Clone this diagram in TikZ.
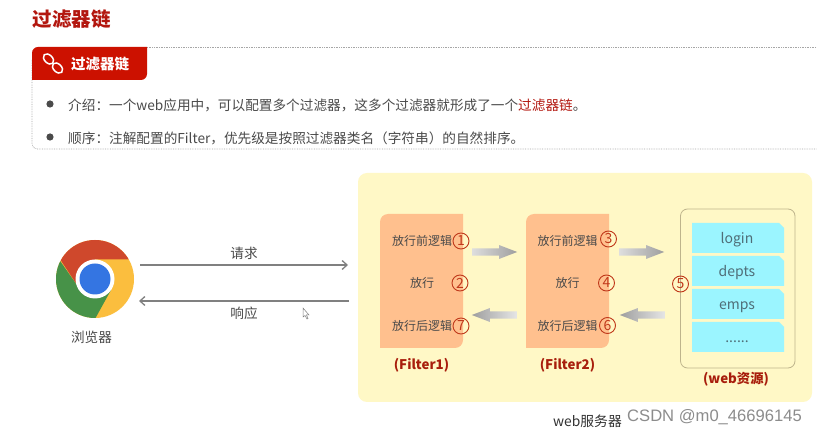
\documentclass[tikz,border=0pt]{standalone}
\usepackage{fontspec}
\setmainfont{Noto Sans CJK SC}
\newfontfamily\latinf{Liberation Sans}
\usetikzlibrary{shapes.arrows,arrows.meta,calc}
\definecolor{titlered}{HTML}{B3170F}
\definecolor{tabred}{HTML}{CC1100}
\definecolor{bodytxt}{HTML}{4A4A4A}
\definecolor{panel}{HTML}{FFF8C6}
\definecolor{filt}{HTML}{FFC08E}
\definecolor{cyanb}{HTML}{9BF5FF}
\definecolor{numred}{HTML}{C0391B}
\definecolor{lblred}{HTML}{A81E0C}
\definecolor{itemtext}{HTML}{4F6E78}
\tikzset{
 x=1pt,y=-1pt,
 txt/.style={inner sep=0pt,font=\fontsize{#1}{#1}\selectfont,text=bodytxt},
 txt/.default=12,
 num/.style={circle,draw=numred,line width=0.9pt,inner sep=0pt,minimum size=16pt,text=numred,font=\fontsize{14}{14}\selectfont},
 flabel/.style={inner sep=0pt,text=lblred,font=\fontsize{13.3}{13.3}\selectfont\bfseries},
 garrow/.style={single arrow,draw=none,minimum height=45pt,single arrow tip angle=42,single arrow head extend=3.25pt,inner xsep=0pt,inner ysep=3.5pt},
 thinarrow/.style={draw=black!50,line width=1.3pt,-{Straight Barb[length=5pt,width=9pt]}},
 item/.style={fill=cyanb,draw=none},
 itemtxt/.style={inner sep=0pt,anchor=base,text=itemtext,font=\fontsize{14}{14}\selectfont},
}
\newcommand{\cyanitem}[3]{% name, top, text
 \fill[item] (692,#2) -- (779,#2) -- (784,#2+5) -- (784,#2+30) -- (692,#2+30) -- cycle;
 \node[itemtxt] (#1) at (737,#2+21) {#3};
}
\begin{document}
\begin{tikzpicture}
\useasboundingbox (0,0) rectangle (817,435);
\fill[white] (0,0) rectangle (817,435);
% title
\node[anchor=west,inner sep=0pt,text=titlered,font=\fontsize{19.5}{19.5}\selectfont\bfseries] (title) at (32.5,19) {过滤器链};
% header box
\draw[black!35,densely dotted,line width=0.7pt,rounded corners=5pt] (32,60) -- (32,149) -- (817,149);
\draw[black!35,densely dotted,line width=0.7pt] (147,47.5) -- (817,47.5);
\fill[tabred] (32,80) [rounded corners=6pt] -- (32,47) [sharp corners] -- (147,47) [rounded corners=6pt] -- (147,80) [sharp corners] -- cycle;
\begin{scope}[white,line width=1.5pt]
 \draw[rotate around={-45:(48.5,59)}] (48.5,59) ellipse[x radius=6,y radius=4];
 \draw[rotate around={-45:(57.5,68)}] (57.5,68) ellipse[x radius=6,y radius=4];
\end{scope}
\node[anchor=west,inner sep=0pt,text=white,font=\fontsize{14.5}{14.5}\selectfont\bfseries] (tabtext) at (71,64) {过滤器链};
% bullets
\fill[bodytxt] (50,104) circle[radius=3.6];
\fill[bodytxt] (50,137) circle[radius=3.6];
\node[txt=13.65,anchor=west] (l1) at (68,105) {介绍：一个web应用中，可以配置多个过滤器，这多个过滤器就形成了一个\textcolor{titlered}{过滤器链}。};
\node[txt=13.65,anchor=west] (l2) at (68,138) {顺序：注解配置的Filter，优先级是按照过滤器类名（字符串）的自然排序。};
% chrome
\begin{scope}
 \clip (95,279) circle[radius=39];
 \fill[fill={rgb,255:red,251;green,190;blue,62}] (50,235) rectangle (140,325);
 \fill[fill={rgb,255:red,207;green,72;blue,44}] (140,259.5) -- (95,259.5) -- (79,288) -- (56,253) -- (56,235) -- (140,235) -- cycle;
 \fill[fill={rgb,255:red,71;green,146;blue,72}] (58,258) -- (79,288) -- (111,290) -- (95,319) -- (50,325) -- (50,250) -- cycle;
\end{scope}
\fill[white] (95,279) circle[radius=19.5];
\fill[fill={rgb,255:red,52;green,117;blue,226}] (95,279) circle[radius=15.5];
\node[txt=13.6] (browser) at (91.5,337) {浏览器};
\coordinate (chromeR1) at (140,265);
\coordinate (chromeR2) at (139,301);
\coordinate (panelL1) at (348,265);
\coordinate (panelL2) at (349,301);
\draw[thinarrow] (chromeR1) -- node[midway,above=5pt,txt=13.6] (req) {请求} (panelL1);
\draw[thinarrow] (panelL2) -- node[midway,below=5pt,txt=13.6] (resp) {响应} (chromeR2);
% cursor
\draw[black!50,fill=white,line width=0.5pt] (303,308) -- (303,317) -- (305,315.5) -- (307,319) -- (308,318.5) -- (306.5,315) -- (309,315) -- cycle;
% panel
\fill[panel,rounded corners=9pt] (358,173) rectangle (812,402);
% filter boxes
\foreach \xx in {380,526}{
 \fill[filt] (\xx,348) [rounded corners=8pt] -- (\xx,214) [sharp corners] -- (\xx+83,214) [rounded corners=8pt] -- (\xx+83,348) [sharp corners] -- cycle;
}
\node[txt=12] (b1) at (422,241) {放行前逻辑};
\node[txt=12] (p1) at (422,283) {放行};
\node[txt=12] (a1) at (422,326) {放行后逻辑};
\node[txt=12] (b2) at (567.5,241) {放行前逻辑};
\node[txt=12] (p2) at (567.5,283) {放行};
\node[txt=12] (a2) at (567.5,326) {放行后逻辑};
\node[num] (n1) at (461,241) {1};
\node[num] (n2) at (460,283) {2};
\node[num] (n7) at (461,326) {7};
\node[num] (n3) at (608.5,239) {3};
\node[num] (n4) at (606.5,283) {4};
\node[num] (n6) at (607.5,325.5) {6};
\node[flabel] (F1) at (421.5,365) {(Filter1)};
\node[flabel] (F2) at (567.5,365) {(Filter2)};
% block arrows
\node[garrow,anchor=tail,left color=black!13,right color=black!38] (ba1) at (472,252) {};
\node[garrow,anchor=tail,shape border rotate=180,left color=black!38,right color=black!10] (ba2) at (517,315) {};
\node[garrow,anchor=tail,left color=black!13,right color=black!38] (ba3) at (619,252) {};
\node[garrow,anchor=tail,shape border rotate=180,left color=black!38,right color=black!10] (ba4) at (665,315) {};
% web box
\draw[draw={rgb,255:red,190;green,180;blue,140},line width=0.8pt,rounded corners=7pt] (680.5,209) rectangle (795,368);
\cyanitem{login}{223}{login}
\cyanitem{depts}{256}{depts}
\cyanitem{emps}{289}{emps}
\cyanitem{more}{322}{......}
\node[num] (n5) at (680.5,284) {5};
\node[flabel] (W) at (736,379) {(web资源)};
% footer
\node[inner sep=0pt,text=black!80,anchor=west,font=\fontsize{13.8}{13.8}\selectfont] (server) at (553,421) {web服务器};
\node[inner sep=0pt,text=black!45,anchor=west,font=\fontsize{16.6}{16.6}\selectfont\latinf] (mark) at (627,417) {CSDN @m0\_46696145};
\end{tikzpicture}
\end{document}
